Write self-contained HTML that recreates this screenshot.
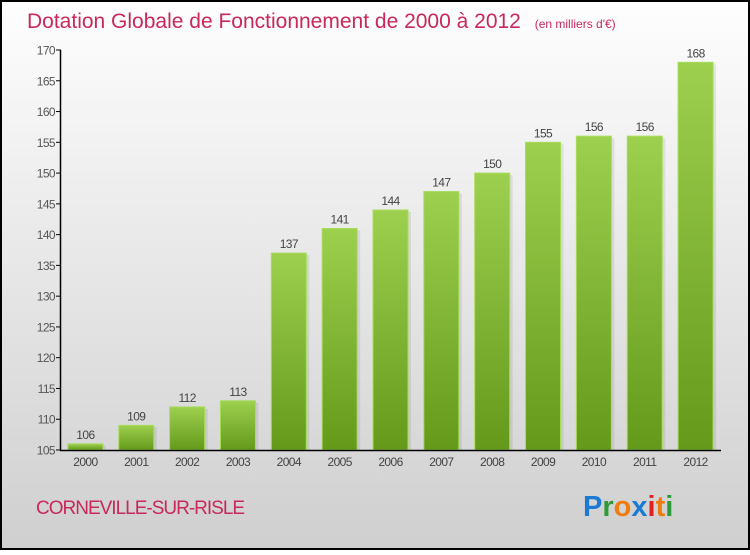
<!DOCTYPE html>
<html><head><meta charset="utf-8"><style>
html,body{margin:0;padding:0}
body{width:750px;height:550px;overflow:hidden;font-family:"Liberation Sans",sans-serif}
</style></head><body>
<svg id="chart" width="750" height="550" xmlns="http://www.w3.org/2000/svg">
<defs>
<linearGradient id="bg" x1="0" y1="0" x2="0" y2="1"><stop offset="0" stop-color="#fefefe"/><stop offset="1" stop-color="#cfcfcf"/></linearGradient>
<linearGradient id="bar" x1="0" y1="0" x2="0" y2="1"><stop offset="0" stop-color="#9ed04f"/><stop offset="1" stop-color="#64991a"/></linearGradient>
</defs>
<rect x="1" y="1" width="748" height="548" fill="url(#bg)" stroke="#000" stroke-width="2"/>
<text x="27" y="28" font-size="21" fill="#c8285a">Dotation Globale de Fonctionnement de 2000 à 2012 <tspan font-size="12" dx="8">(en milliers d'€)</tspan></text>
<g id="yticks"></g><g id="bars"></g><g id="xlabels"></g>
<line x1="60.5" y1="50" x2="60.5" y2="451" stroke="#000" stroke-width="1.5"/>
<line x1="60" y1="450.5" x2="721" y2="450.5" stroke="#000" stroke-width="1.5"/>
<text x="36" y="514" font-size="19" fill="#c8285a" letter-spacing="-1">CORNEVILLE-SUR-RISLE</text>
<g font-size="29" font-weight="bold" font-family="'Liberation Sans',sans-serif">
<text x="583" y="516"><tspan fill="#1a7ad4">P</tspan><tspan fill="#2e9a3a">r</tspan><tspan fill="#f07c10">o</tspan><tspan fill="#1a7ad4">x</tspan><tspan fill="#e02020">i</tspan><tspan fill="#f07c10">t</tspan><tspan fill="#2e9a3a">i</tspan></text>
</g>
</svg>
<script>
const years=["2000","2001","2002","2003","2004","2005","2006","2007","2008","2009","2010","2011","2012"];
const values=[106,109,112,113,137,141,144,147,150,155,156,156,168];
const yTicks=[105,110,115,120,125,130,135,140,145,150,155,160,165,170];
const NS="http://www.w3.org/2000/svg";
const y0=450,y1=50,vmin=105,vmax=170,xL=60,xR=721;
const band=(xR-xL)/years.length,bw=35;
function yScale(v){return y0-(v-vmin)/(vmax-vmin)*(y0-y1);}
function xCenter(i){return xL+band*(i+0.5);}
function mk(t,a,p){const e=document.createElementNS(NS,t);for(const k in a)e.setAttribute(k,a[k]);p.appendChild(e);return e;}
const gy=document.getElementById('yticks');
yTicks.forEach(v=>{const y=yScale(v);
 const l=mk('line',{x1:56,x2:61,y1:y,y2:y,stroke:'#000'},gy);
 
 
 const t=mk('text',{x:55,y:y+4.5,'font-size':12,fill:'#555','text-anchor':'end','letter-spacing':'-0.6'},gy);t.textContent=v;
 
 });
const gb=document.getElementById('bars'),gx=document.getElementById('xlabels');
values.forEach((v,i)=>{const cx=xCenter(i),y=yScale(v);
 const s=mk('rect',{x:cx-bw/2+3,y:y+2,width:bw,height:y0-y-2,fill:'#000',opacity:0.08},gb);
 
 
 const r=mk('rect',{x:cx-bw/2,y:y,width:bw,height:y0-y,fill:'url(#bar)',stroke:'#a8dc5c','stroke-width':1},gb);
 
 
 const t=mk('text',{x:cx,y:y-5,'font-size':12,fill:'#444','text-anchor':'middle','letter-spacing':'-0.6'},gb);t.textContent=v;
 
 
 const xl=mk('text',{x:cx,y:466,'font-size':12,fill:'#444','text-anchor':'middle','letter-spacing':'-0.6'},gx);xl.textContent=years[i];
 
 });
</script>
</body></html>
